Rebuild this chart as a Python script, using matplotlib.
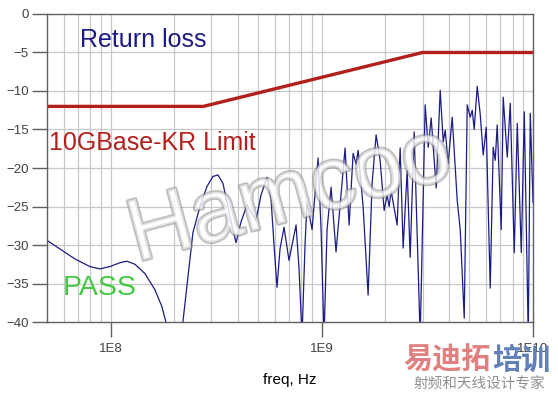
import numpy as np
import matplotlib.pyplot as plt
import matplotlib.patheffects as pe

# return loss trace (freq in GHz, RL in dB)
rl_freq = [0.050, 0.0575, 0.0677, 0.0798, 0.0890, 0.0992, 0.1107, 0.1194, 0.1304, 0.1454,
           0.1621, 0.1750, 0.1828, 0.2017, 0.2200, 0.2454, 0.2650, 0.2860, 0.3050, 0.3225,
           0.3405, 0.3676, 0.3925, 0.4145, 0.4425, 0.4882, 0.5156, 0.5506, 0.5750, 0.5941,
           0.6138, 0.6343, 0.6625, 0.6996, 0.7552, 0.7803, 0.8062, 0.8330, 0.8514, 0.8993,
           0.9603, 0.9922, 1.025, 1.059, 1.107, 1.168, 1.289, 1.347, 1.407, 1.454,
           1.486, 1.569, 1.657, 1.731, 1.808, 1.889, 1.974, 2.039, 2.084, 2.130,
           2.274, 2.350, 2.428, 2.537, 2.621, 2.737, 2.923, 3.087, 3.190, 3.296,
           3.480, 3.636, 3.757, 3.840, 3.967, 4.144, 4.377, 4.523, 4.725, 4.882,
           5.044, 5.156, 5.268, 5.443, 5.624, 5.812, 6.005, 6.273, 6.481, 6.625,
           6.769, 7.072, 7.227, 7.552, 7.803, 8.153, 8.424, 8.801, 9.095, 9.497,
           9.707, 10.0]
rl_db = [-29.4, -30.5, -31.8, -32.8, -33.1, -32.8, -32.3, -32.1, -32.5, -33.7,
         -35.8, -38.0, -40.0, -50.0, -40.0, -28.4, -25.0, -22.4, -21.1, -20.9,
         -22.0, -26.3, -29.7, -27.0, -24.8, -26.8, -23.5, -21.2, -24.0, -30.0,
         -35.5, -30.5, -27.7, -32.0, -27.4, -33.0, -42.0, -30.0, -24.4, -28.0,
         -18.7, -28.0, -42.0, -28.0, -22.5, -30.9, -17.4, -27.4, -18.1, -19.5,
         -17.7, -25.0, -36.5, -22.0, -15.7, -19.0, -25.5, -23.5, -25.0, -23.0,
         -27.4, -17.4, -30.4, -20.3, -31.6, -15.3, -42.0, -11.8, -17.3, -13.5,
         -22.6, -9.9, -16.6, -15.1, -19.4, -13.4, -24.2, -28.0, -39.5, -11.8,
         -13.4, -12.5, -15.0, -9.4, -13.0, -18.3, -14.7, -35.6, -17.3, -19.0,
         -14.4, -28.0, -10.8, -18.6, -11.6, -31.0, -14.2, -31.0, -12.7, -42.0,
         -12.9, -24.5]

# 10GBase-KR limit
lim_freq = [0.05, 0.275, 3.0, 10.0]
lim_db = [-12, -12, -5, -5]

plt.rcParams['font.family'] = ['Liberation Sans', 'Noto Sans CJK SC', 'DejaVu Sans']

fig = plt.figure(figsize=(5.58, 3.94), dpi=100)
ax = fig.add_axes([0.0842, 0.1827, 0.871, 0.7818])

ax.plot(np.array(rl_freq) * 1e9, rl_db, color='#1c1c84', lw=0.9)
ax.plot(np.array(lim_freq) * 1e9, lim_db, color='#b3201c', lw=2.4)

ax.set_xscale('log')
ax.set_xlim(5e7, 1e10)
ax.set_ylim(-40, 0)
ax.set_yticks(np.arange(-40, 1, 5))
ax.set_xticks([1e8, 1e9, 1e10])
ax.set_xticklabels(['1E8', '1E9', '1E10'])
ax.set_xticks([], minor=True)

# light grid at every 1..9 multiple and every 5 dB
for dec in [1e7, 1e8, 1e9]:
    for m in range(1, 10):
        f = m * dec
        if 5e7 < f < 1e10:
            ax.axvline(f, color='#c8c8c8', lw=0.9, zorder=0)
for y in range(-35, 0, 5):
    ax.axhline(y, color='#c8c8c8', lw=0.9, zorder=0)

for s in ax.spines.values():
    s.set_color('#606060')
    s.set_linewidth(1.0)
ax.tick_params(axis='both', direction='out', length=11, width=1.0,
               color='#606060', labelsize=9.5, labelcolor='#404040', pad=2)
ax.tick_params(axis='x', pad=4)
ax.set_xlabel('freq, Hz', fontsize=11, labelpad=13)

ax.text(0.067, 0.915, 'Return loss', transform=ax.transAxes, color='#1c1c84',
        fontsize=18, va='center')
ax.text(0.004, 0.58, '10GBase-KR Limit', transform=ax.transAxes, color='#b3201c',
        fontsize=18, va='center')
ax.text(0.033, 0.11, 'PASS', transform=ax.transAxes, color='#44c844',
        fontsize=20.5, va='center')

# watermark
fig.text(0.52, 0.50, 'Hamcoo', fontsize=64, rotation=15, ha='center', va='center',
         color='white', alpha=0.55,
         path_effects=[pe.withStroke(linewidth=2.5, foreground='#8a8a8a')])
fig.text(0.88, 0.088, '易迪拓', fontsize=21, color='#e08080', ha='right',
         va='center', family='Noto Sans CJK SC', weight='bold')
fig.text(0.883, 0.088, '培训', fontsize=21, color='#6080b8', ha='left',
         va='center', family='Noto Sans CJK SC', weight='bold')
fig.text(0.86, 0.025, '射频和天线设计专家', fontsize=10.5, color='#909090',
         ha='center', va='center', family='Noto Sans CJK SC')

fig.savefig('out.png', dpi=100)
